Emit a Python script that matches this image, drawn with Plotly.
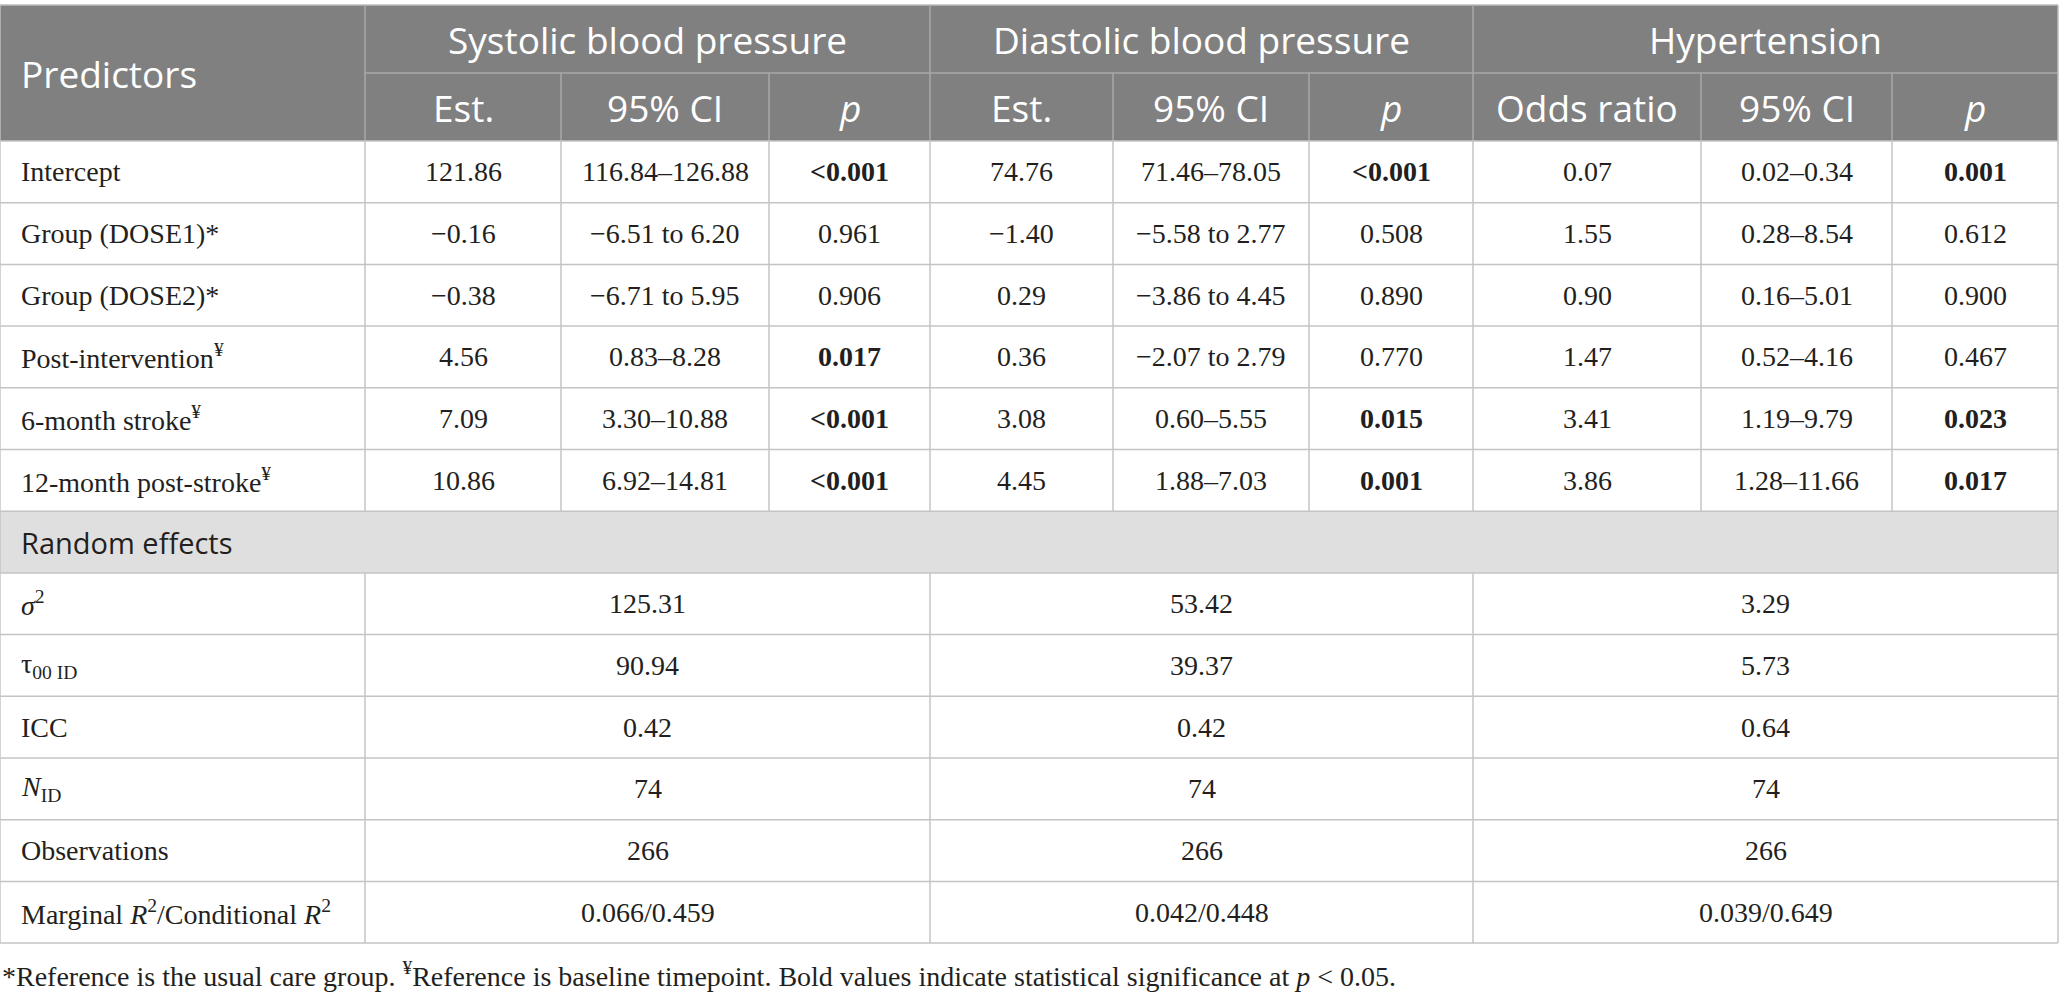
import plotly.graph_objects as go

# table content
predictors = ["Intercept", "Group (DOSE1)*", "Group (DOSE2)*", "Post-intervention<sup>¥</sup>",
              "6-month stroke<sup>¥</sup>", "12-month post-stroke<sup>¥</sup>"]
sbp_est = ["121.86", "−0.16", "−0.38", "4.56", "7.09", "10.86"]
sbp_ci = ["116.84–126.88", "−6.51 to 6.20", "−6.71 to 5.95", "0.83–8.28", "3.30–10.88", "6.92–14.81"]
sbp_p = ["<0.001", "0.961", "0.906", "0.017", "<0.001", "<0.001"]
dbp_est = ["74.76", "−1.40", "0.29", "0.36", "3.08", "4.45"]
dbp_ci = ["71.46–78.05", "−5.58 to 2.77", "−3.86 to 4.45", "−2.07 to 2.79", "0.60–5.55", "1.88–7.03"]
dbp_p = ["<0.001", "0.508", "0.890", "0.770", "0.015", "0.001"]
hyp_or = ["0.07", "1.55", "0.90", "1.47", "3.41", "3.86"]
hyp_ci = ["0.02–0.34", "0.28–8.54", "0.16–5.01", "0.52–4.16", "1.19–9.79", "1.28–11.66"]
hyp_p = ["0.001", "0.612", "0.900", "0.467", "0.023", "0.017"]

groups = ["Systolic blood pressure", "Diastolic blood pressure", "Hypertension"]
subheads = ["Est.", "95% CI", "<i>p</i>", "Est.", "95% CI", "<i>p</i>", "Odds ratio", "95% CI", "<i>p</i>"]

re_labels = ["<i>σ</i><sup>2</sup>", "τ<sub>00 ID</sub>", "ICC", "<i>N</i><sub>ID</sub>", "Observations",
             "Marginal <i>R</i><sup>2</sup>/Conditional <i>R</i><sup>2</sup>"]
re_sbp = ["125.31", "90.94", "0.42", "74", "266", "0.066/0.459"]
re_dbp = ["53.42", "39.37", "0.42", "74", "266", "0.042/0.448"]
re_hyp = ["3.29", "5.73", "0.64", "74", "266", "0.039/0.649"]

footnote = ("*Reference is the usual care group. <sup>¥</sup>Reference is baseline timepoint. "
            "Bold values indicate statistical significance at <i>p</i> &lt; 0.05.")

# geometry (pixels)
W, H = 2060, 997
cols = [0, 365, 561, 769, 930, 1113, 1309, 1473, 1701, 1892, 2058]
top, hdr_h, row_h = 5, 68, 61.7
hdr_bg = "#808080"
grid = "#c4c4c4"
hdr_line = "#a8a8a8"
sans = "Open Sans"
serif = "Liberation Serif"
ink = "#231f20"
pad = 19


def is_sig(p):
    if p.startswith("<"):
        return True
    return float(p) < 0.05


def fmt_p(p):
    txt = p.replace("<", "&lt;")
    return "<b>" + txt + "</b>" if is_sig(p) else txt


body_top = top + 2 * hdr_h
n_fixed = len(predictors)
n_re = len(re_labels)
edges = [body_top + i * row_h for i in range(n_fixed + 1 + n_re + 1)]
re_head = n_fixed  # index of "Random effects" row

fig = go.Figure()
shapes = []
ann = []

# header background
shapes.append(dict(type="rect", x0=cols[0], x1=cols[-1], y0=top, y1=body_top,
                   fillcolor=hdr_bg, line_width=0, layer="below"))
# random effects band
shapes.append(dict(type="rect", x0=cols[0], x1=cols[-1], y0=edges[re_head], y1=edges[re_head + 1],
                   fillcolor="#e0dfe0", line_width=0, layer="below"))


def hline(y, x0, x1, c=grid, w=1.5):
    shapes.append(dict(type="line", x0=x0, x1=x1, y0=y, y1=y, line=dict(color=c, width=w)))


def vline(x, y0, y1, c=grid, w=1.5):
    shapes.append(dict(type="line", x0=x, x1=x, y0=y0, y1=y1, line=dict(color=c, width=w)))


# header lines
hline(top, cols[0], cols[-1], c="#bdbdbd")
hline(top + hdr_h, cols[1], cols[-1], c=hdr_line)
for i, x in enumerate(cols):
    if i in (1, 4, 7):
        vline(x, top, body_top, c=hdr_line)
    elif 0 < i < len(cols) - 1:
        vline(x, top + hdr_h, body_top, c=hdr_line)
vline(cols[0], top, body_top, c="#bdbdbd")
vline(cols[-1], top, body_top, c="#bdbdbd")

# body horizontal lines
for y in edges:
    hline(y, cols[0], cols[-1])
# body vertical lines
for x in cols:
    vline(x, edges[0], edges[re_head])
vline(cols[0], edges[re_head], edges[-1])
vline(cols[-1], edges[re_head], edges[-1])
for x in (cols[1], cols[4], cols[7]):
    vline(x, edges[re_head + 1], edges[-1])


def text(x, y, s, font, size, color, anchor="center"):
    ann.append(dict(x=x, y=y, xref="x", yref="y", text=s, showarrow=False, xanchor=anchor,
                    yanchor="middle", font=dict(family=font, size=size, color=color)))


# header text
text(pad, top + hdr_h, "Predictors", sans, 37, "white", "left")
for g, name in enumerate(groups):
    cx = (cols[1 + 3 * g] + cols[4 + 3 * g]) / 2
    text(cx, top + hdr_h / 2, name, sans, 37, "white")
for j, s in enumerate(subheads):
    cx = (cols[j + 1] + cols[j + 2]) / 2
    text(cx, top + 1.5 * hdr_h, s, sans, 37, "white")

# fixed effects rows
for r in range(n_fixed):
    cy = (edges[r] + edges[r + 1]) / 2
    text(pad, cy, predictors[r], serif, 28, ink, "left")
    vals = [sbp_est[r], sbp_ci[r], fmt_p(sbp_p[r]),
            dbp_est[r], dbp_ci[r], fmt_p(dbp_p[r]),
            hyp_or[r], hyp_ci[r], fmt_p(hyp_p[r])]
    for j, v in enumerate(vals):
        cx = (cols[j + 1] + cols[j + 2]) / 2
        text(cx, cy, v, serif, 28, ink)

# random effects heading
text(pad, (edges[re_head] + edges[re_head + 1]) / 2, "Random effects", sans, 29, ink, "left")

for r in range(n_re):
    i = re_head + 1 + r
    cy = (edges[i] + edges[i + 1]) / 2
    text(pad, cy, re_labels[r], serif, 28, ink, "left")
    for g, v in enumerate([re_sbp[r], re_dbp[r], re_hyp[r]]):
        cx = (cols[1 + 3 * g] + cols[4 + 3 * g]) / 2
        text(cx, cy, v, serif, 28, ink)

text(0, edges[-1] + 31, footnote, serif, 28, ink, "left")

fig.update_layout(
    width=W, height=H, autosize=False,
    margin=dict(l=0, r=0, t=0, b=0),
    paper_bgcolor="white", plot_bgcolor="white",
    xaxis=dict(range=[0, W], visible=False, fixedrange=True),
    yaxis=dict(range=[H, 0], visible=False, fixedrange=True),
    shapes=shapes, annotations=ann, showlegend=False,
)

fig.write_html("out.html", config={"displayModeBar": False},
               post_script="document.body.style.margin='0';document.body.style.overflow='hidden';")
